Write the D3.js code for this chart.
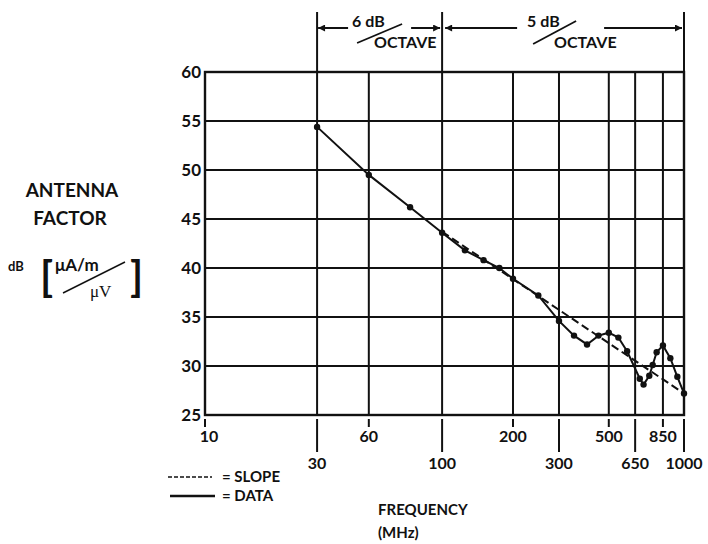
<!DOCTYPE html>
<html lang="en">
<head>
<meta charset="UTF-8">
<title>Antenna Factor</title>
<script src="https://d3js.org/d3.v7.min.js"></script>
<style>
  body { margin: 0; background: #fff; }
  text { font-family: Lato, "Open Sans", sans-serif; font-weight: 700; fill: #111; }
</style>
</head>
<body>
<svg id="chart" width="708" height="544"></svg>
<script>
// frequency axis (MHz) - hand drawn log paper, so the anchors are spaced unevenly
const freqTicks = [10, 30, 60, 100, 200, 300, 500, 650, 850, 1000];
const freqStops = [0, 0.234, 0.342, 0.495, 0.643, 0.739, 0.843, 0.898, 0.956, 1];
const freqLong = [30, 100, 300, 650, 1000];   // second label row, long ticks
const freqGrid = [30, 60, 100, 200, 300, 500, 650, 850];
const dbTicks = [25, 30, 35, 40, 45, 50, 55, 60];

// band edges marked above the plot
const bandEdges = [30, 100, 1000];

// measured antenna factor (dB)
const dataFreq = [30, 60, 80, 100, 125, 150, 175, 200, 250, 300, 350, 400, 450, 500, 550, 600, 680, 705, 745, 770, 800, 850, 900, 950, 1000];
const dataDb = [54.4, 49.5, 46.2, 43.6, 41.8, 40.8, 40.0, 38.9, 37.2, 34.6, 33.1, 32.2, 33.1, 33.4, 32.9, 31.5, 28.7, 28.1, 29.0, 30.1, 31.4, 32.1, 30.8, 28.9, 27.2];

// slope: 5 dB/octave above 100 MHz (below it the slope sits on the data)
const slopeFreq = [100, 1000];
const slopeDb = [43.7, 27.2];

const width = 708, height = 544;
const margin = { top: 72, right: 24, bottom: 129, left: 205 };
const plotW = width - margin.left - margin.right;
const plotH = height - margin.top - margin.bottom;

const svg = d3.select("#chart");

const x = d3.scaleLog()
    .domain(freqTicks)
    .range(freqStops.map(f => margin.left + f * plotW));
const y = d3.scaleLinear()
    .domain([25, 60])
    .range([margin.top + plotH, margin.top]);

const defs = svg.append("defs");
defs.append("marker")
    .attr("id", "head")
    .attr("viewBox", "0 0 10 10")
    .attr("refX", 10).attr("refY", 5)
    .attr("markerWidth", 10).attr("markerHeight", 7)
    .attr("markerUnits", "userSpaceOnUse")
    .attr("orient", "auto-start-reverse")
    .append("path")
    .attr("d", "M0,0 L10,5 L0,10 Z")
    .attr("fill", "#111");

// grid
const grid = svg.append("g").attr("stroke", "#111").attr("stroke-width", 2);
grid.selectAll(".vg")
    .data(freqGrid)
    .enter().append("line")
    .attr("x1", d => x(d)).attr("x2", d => x(d))
    .attr("y1", y(60)).attr("y2", y(25));
grid.selectAll(".hg")
    .data(dbTicks.slice(1, -1))
    .enter().append("line")
    .attr("x1", x(10)).attr("x2", x(1000))
    .attr("y1", d => y(d)).attr("y2", d => y(d));
svg.append("rect")
    .attr("x", x(10)).attr("y", y(60))
    .attr("width", x(1000) - x(10)).attr("height", y(25) - y(60))
    .attr("fill", "none").attr("stroke", "#111").attr("stroke-width", 2.4);

// y axis labels
const yAxis = d3.axisLeft(y).tickValues(dbTicks).tickSize(0).tickPadding(4);
svg.append("g")
    .attr("transform", `translate(${margin.left},0)`)
    .call(yAxis)
    .call(g => g.select(".domain").remove())
    .selectAll("text")
    .style("font-size", "17px").style("font-family", "Lato, sans-serif")
    .style("font-weight", 700).attr("fill", "#111");

// x axis: two rows of labels
const xg = svg.append("g");
xg.selectAll(".xt")
    .data(freqTicks)
    .enter().append("line")
    .attr("x1", d => x(d)).attr("x2", d => x(d))
    .attr("y1", y(25) + 4)
    .attr("y2", d => y(25) + (freqLong.includes(d) ? 37 : 12))
    .attr("stroke", "#111").attr("stroke-width", 2);
xg.selectAll(".xl")
    .data(freqTicks)
    .enter().append("text")
    .attr("x", d => x(d) + (d === 10 ? 4 : 0))
    .attr("y", d => freqLong.includes(d) ? 463 : 436)
    .attr("dy", "0.35em")
    .attr("text-anchor", "middle")
    .style("font-size", "16px")
    .text(d => d);

// top annotation: octave slopes
const header = svg.append("g");
header.selectAll(".tl")
    .data(bandEdges)
    .enter().append("line")
    .attr("x1", d => x(d)).attr("x2", d => x(d))
    .attr("y1", 12).attr("y2", y(60))
    .attr("stroke", "#111").attr("stroke-width", 2);

const ay = 28;
const arrows = [
    [x(30) + 31, x(30) + 1],
    [x(100) - 31, x(100) - 2],
    [x(100) + 75, x(100) + 3],
    [x(100) + 162, x(1000) - 2]
];
header.selectAll(".ar")
    .data(arrows)
    .enter().append("line")
    .attr("x1", d => d[0]).attr("x2", d => d[1])
    .attr("y1", ay).attr("y2", ay)
    .attr("stroke", "#111").attr("stroke-width", 2)
    .attr("marker-end", "url(#head)");

const notes = [
    { x0: x(30), db: "6 dB", dbx: 35, ox: 57, s: [40, 43, 85, 24] },
    { x0: x(100), db: "5 dB", dbx: 85, ox: 112, s: [91, 44, 134, 21] }
];
notes.forEach(n => {
    header.append("text").attr("x", n.x0 + n.dbx).attr("y", 27)
        .style("font-size", "16px").text(n.db);
    header.append("text").attr("x", n.x0 + n.ox).attr("y", 48)
        .style("font-size", "16px").text("OCTAVE");
    header.append("line")
        .attr("x1", n.x0 + n.s[0]).attr("y1", n.s[1])
        .attr("x2", n.x0 + n.s[2]).attr("y2", n.s[3])
        .attr("stroke", "#111").attr("stroke-width", 1.8);
});

// slope and data lines
const slope = slopeFreq.map((f, i) => [f, slopeDb[i]]);
const data = dataFreq.map((f, i) => [f, dataDb[i]]);
const line = d3.line().x(d => x(d[0])).y(d => y(d[1]));

svg.append("path")
    .datum(slope)
    .attr("d", line)
    .attr("fill", "none").attr("stroke", "#111")
    .attr("stroke-width", 2).attr("stroke-dasharray", "8,4");

svg.append("path")
    .datum(data)
    .attr("d", line)
    .attr("fill", "none").attr("stroke", "#111")
    .attr("stroke-width", 2);

svg.selectAll(".pt")
    .data(data)
    .enter().append("circle")
    .attr("cx", d => x(d[0])).attr("cy", d => y(d[1]))
    .attr("r", 3.2).attr("fill", "#111");

// y title
const yt = svg.append("g");
yt.append("text").attr("x", 72).attr("y", 197).attr("text-anchor", "middle")
    .style("font-size", "19px").text("ANTENNA");
yt.append("text").attr("x", 70).attr("y", 225).attr("text-anchor", "middle")
    .style("font-size", "19px").text("FACTOR");
yt.append("text").attr("x", 8).attr("y", 271).style("font-size", "13px").text("dB");
yt.append("text").attr("x", 40).attr("y", 292).style("font-size", "42px").text("[");
yt.append("text").attr("x", 55).attr("y", 271).style("font-size", "17px").text("μA/m");
yt.append("line").attr("x1", 63).attr("y1", 293).attr("x2", 125).attr("y2", 262)
    .attr("stroke", "#111").attr("stroke-width", 1.4);
yt.append("text").attr("x", 90).attr("y", 297)
    .style("font-family", "'Liberation Serif', serif").style("font-weight", 400)
    .style("font-size", "17px").text("μV");
yt.append("text").attr("x", 130).attr("y", 292).style("font-size", "42px").text("]");

// legend
const lg = svg.append("g");
lg.append("line").attr("x1", 168).attr("x2", 212).attr("y1", 477).attr("y2", 477)
    .attr("stroke", "#111").attr("stroke-width", 1.6).attr("stroke-dasharray", "4,2");
lg.append("text").attr("x", 222).attr("y", 477).attr("dy", "0.35em")
    .style("font-size", "15px").text("= SLOPE");
lg.append("line").attr("x1", 170).attr("x2", 215).attr("y1", 496).attr("y2", 496)
    .attr("stroke", "#111").attr("stroke-width", 2.4);
lg.append("text").attr("x", 222).attr("y", 496).attr("dy", "0.35em")
    .style("font-size", "15px").text("= DATA");

// x title
svg.append("text").attr("x", 378).attr("y", 515).style("font-size", "15px").text("FREQUENCY");
svg.append("text").attr("x", 378).attr("y", 538).style("font-size", "15px").text("(MHz)");
</script>
</body>
</html>
